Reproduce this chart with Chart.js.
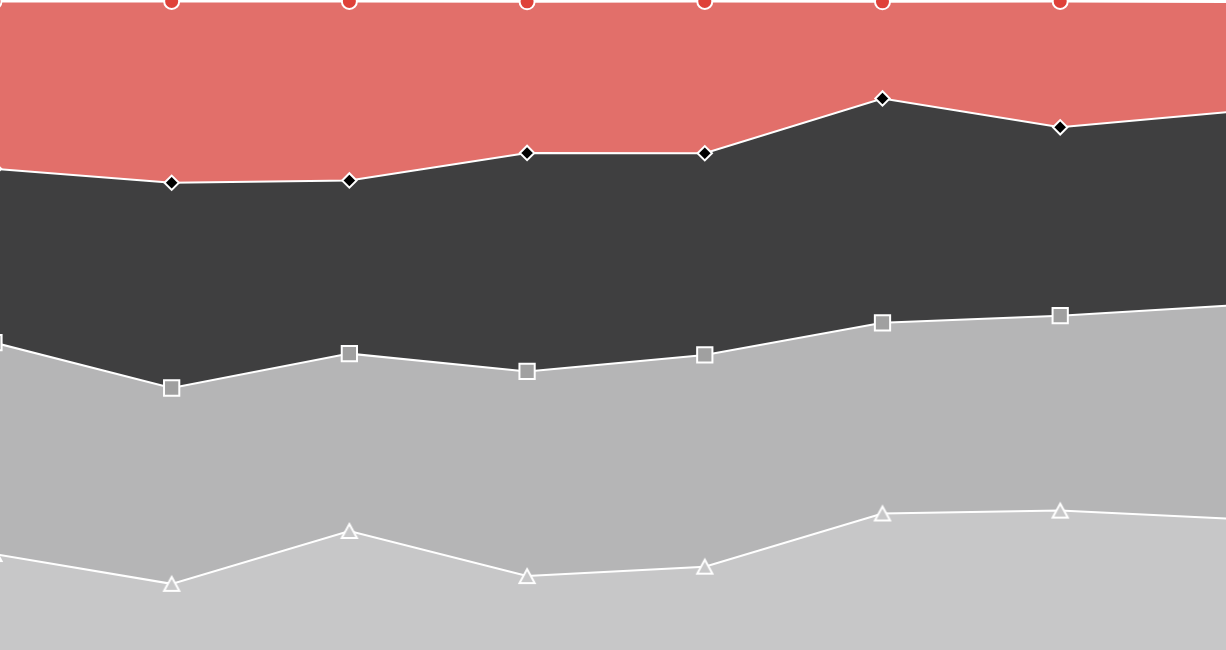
<!DOCTYPE html>
<html>
<head>
<meta charset="utf-8">
<script src="https://cdn.jsdelivr.net/npm/chart.js@4.4.0/dist/chart.umd.min.js"></script>
<style>
  html, body { margin: 0; padding: 0; background: #ffffff; overflow: hidden; }
  #wrap { width: 1226px; height: 650px; position: relative; }
</style>
</head>
<body>
<div id="wrap"><canvas id="c"></canvas></div>
<script>
// Categories (8 periods, evenly spaced)
const categories = [0, 1, 2, 3, 4, 5, 6, 7];
// Stacked shares (percent), bottom to top
const seriesA = [14.8, 10.2, 18.35, 11.4, 12.85, 21.05, 21.5, 20.2];   // light grey, triangles
const seriesB = [32.6, 30.2, 27.35, 31.55, 32.65, 29.4, 30.05, 33.0];  // mid grey, squares
const seriesC = [26.8, 31.65, 26.7, 33.7, 31.1, 34.6, 29.05, 29.9];    // dark grey, diamonds
const seriesD = [25.8, 27.95, 27.6, 23.3, 23.4, 14.9, 19.4, 16.8];     // red, circles

const toPts = arr => arr.map((v, i) => ({ x: categories[i], y: v }));

// Triangle marker centred on its bounding box (image point style)
function makeTriangle() {
  const cv = document.createElement('canvas');
  cv.width = 24; cv.height = 24;
  const g = cv.getContext('2d');
  g.beginPath();
  g.moveTo(12, 12 - 7);
  g.lineTo(12 + 7.6, 12 + 7);
  g.lineTo(12 - 7.6, 12 + 7);
  g.closePath();
  g.fillStyle = '#c7c7c8';
  g.fill();
  g.lineWidth = 2;
  g.lineJoin = 'miter';
  g.strokeStyle = '#ffffff';
  g.stroke();
  return cv;
}
const triImg = makeTriangle();

new Chart(document.getElementById('c'), {
  type: 'line',
  data: {
    datasets: [
      {
        data: toPts(seriesA), fill: 'origin',
        backgroundColor: '#c7c7c8', borderColor: '#ffffff', borderWidth: 2,
        pointStyle: triImg, pointRadius: 9, pointBackgroundColor: '#c7c7c8',
        pointBorderColor: '#ffffff', pointBorderWidth: 2, tension: 0
      },
      {
        data: toPts(seriesB), fill: '-1',
        backgroundColor: '#b5b5b6', borderColor: '#ffffff', borderWidth: 2,
        pointStyle: 'rect', pointRadius: 10.8, pointBackgroundColor: '#a0a0a0',
        pointBorderColor: '#ffffff', pointBorderWidth: 2, tension: 0
      },
      {
        data: toPts(seriesC), fill: '-1',
        backgroundColor: '#3f3f40', borderColor: '#ffffff', borderWidth: 2,
        pointStyle: 'rectRot', pointRadius: 7.2, pointBackgroundColor: '#000000',
        pointBorderColor: '#ffffff', pointBorderWidth: 2, tension: 0
      },
      {
        data: toPts(seriesD), fill: '-1',
        backgroundColor: '#e26f6a', borderColor: '#ffffff', borderWidth: 2,
        pointStyle: 'circle', pointRadius: 7.5, pointBackgroundColor: '#df4139',
        pointBorderColor: '#ffffff', pointBorderWidth: 2, tension: 0
      }
    ]
  },
  options: {
    responsive: true,
    maintainAspectRatio: false,
    animation: false,
    layout: { padding: 0, autoPadding: false },
    plugins: { legend: { display: false }, tooltip: { enabled: false } },
    scales: {
      x: { type: 'linear', display: false, min: 0.034, max: 6.933 },
      y: { display: false, stacked: true, min: 0, max: 100.23 }
    }
  }
});
</script>
</body>
</html>
